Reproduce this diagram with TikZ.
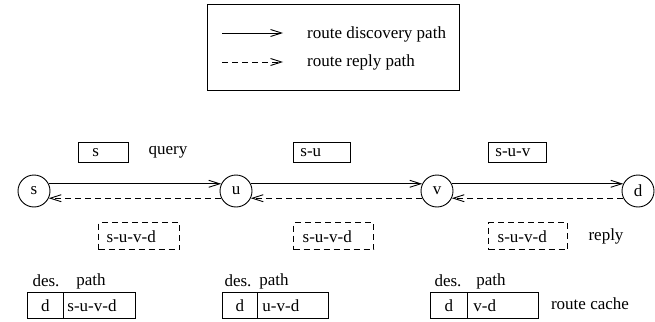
\documentclass[tikz,border=0pt]{standalone}
\usepackage{fontspec}
\setmainfont{Liberation Serif}
\usetikzlibrary{arrows.meta}
\begin{document}
\begin{tikzpicture}[x=1pt,y=-1pt,
  every node/.style={font=\fontsize{17}{20}\selectfont, inner sep=0pt},
  hop/.style={draw, circle, minimum size=32pt, line width=0.9pt},
  tipstyle/.style={-{Straight Barb[length=11pt,width=7pt,line width=0.9pt]}},
  disc/.style={line width=0.9pt, tipstyle},
  rep/.style={line width=0.9pt, dash pattern=on 6pt off 4pt, tipstyle},
  qbox/.style={draw, line width=0.9pt, anchor=north west, minimum height=20pt, align=left},
  rbox/.style={draw, line width=1.4pt, dash pattern=on 6pt off 4pt, anchor=north west, minimum height=27pt, align=left},
  cell/.style={draw, line width=0.9pt, anchor=north west, minimum height=26pt, align=left},
  lbl/.style={anchor=center}]
\useasboundingbox (0,0) rectangle (655,321);

% legend
\node[draw, line width=0.9pt, anchor=north west, minimum width=252pt, minimum height=86pt] (legend) at (207,4) {};
\coordinate (l1a) at (222,33);
\coordinate (l1b) at (283,33);
\coordinate (l2a) at (222,62);
\coordinate (l2b) at (283,62);
\draw[disc] (l1a) -- (l1b);
\draw[rep] (l2a) -- (l2b);
\node[anchor=west] (t1) at (307,34) {route discovery path};
\node[anchor=west] (t2) at (307,62) {route reply path};

% hops
\node[hop] (s) at (34,191) {s};
\node[hop] (u) at (236,191) {u};
\node[hop] (v) at (437,191) {v};
\node[hop] (d) at (638,191) {d};

\draw[disc] (s.26) -- (u.154);
\draw[disc] (u.26) -- (v.154);
\draw[disc] (v.26) -- (d.154);
\draw[rep] (u.206) -- (s.-26);
\draw[rep] (v.206) -- (u.-26);
\draw[rep] (d.206) -- (v.-26);

% query boxes
\node[qbox, inner xsep=14pt, text width=22pt] (q1) at (78,142) {s};
\node[lbl] (query) at (168,152) {query};
\node[qbox, inner xsep=7pt, text width=43pt] (q2) at (293,142) {s-u};
\node[qbox, inner xsep=7pt, text width=44pt] (q3) at (488,142) {s-u-v};

% reply boxes
\node[rbox, inner xsep=8pt, text width=65pt] (r1) at (98,222) {s-u-v-d};
\node[rbox, inner xsep=9pt, text width=62pt] (r2) at (293,222) {s-u-v-d};
\node[rbox, inner xsep=9pt, text width=61pt] (r3) at (488,222) {s-u-v-d};
\node[lbl] (reply) at (606,236) {reply};

% route caches
\node[lbl] (h1a) at (46,281) {des.};
\node[lbl] (h1b) at (91,281) {path};
\node[cell, inner xsep=0pt, text width=36pt, align=center] (c1a) at (27,292) {d};
\node[cell, inner xsep=4pt, text width=64pt] (c1b) at (63,292) {s-u-v-d};

\node[lbl] (h2a) at (238,281) {des.};
\node[lbl] (h2b) at (274,281) {path};
\node[cell, inner xsep=0pt, text width=35pt, align=center] (c2a) at (222,292) {d};
\node[cell, inner xsep=5pt, text width=61pt] (c2b) at (257,292) {u-v-d};

\node[lbl] (h3a) at (448,281) {des.};
\node[lbl] (h3b) at (491,281) {path};
\node[cell, inner xsep=0pt, text width=37pt, align=center] (c3a) at (430,292) {d};
\node[cell, inner xsep=6pt, text width=59pt] (c3b) at (467,292) {v-d};
\node[lbl] (cache) at (590,304) {route cache};
\end{tikzpicture}
\end{document}
